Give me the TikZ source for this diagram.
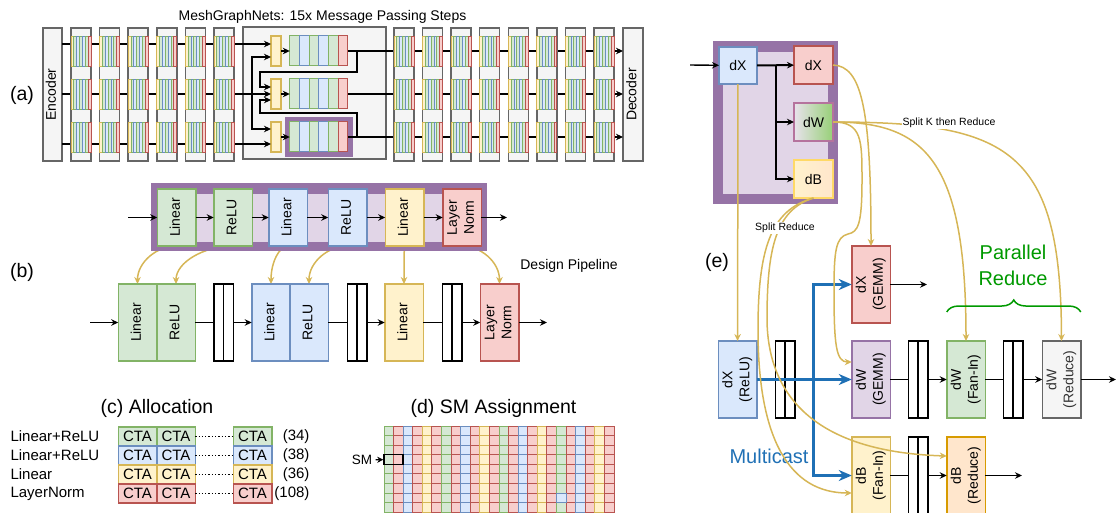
\documentclass[tikz,border=0pt]{standalone}
\usepackage{fontspec}
\setmainfont{Liberation Sans}
\usepackage{graphicx}
\usetikzlibrary{arrows.meta,calc,decorations.pathreplacing}
\pgfdeclarelayer{behind}
\pgfsetlayers{behind,main}
\definecolor{pale-green}{HTML}{D5E8D4}
\definecolor{leaf-green}{HTML}{82B366}
\definecolor{pale-blue}{HTML}{DAE8FC}
\definecolor{steel-blue}{HTML}{6C8EBF}
\definecolor{pale-yellow}{HTML}{FFF2CC}
\definecolor{mustard}{HTML}{D6B656}
\definecolor{pale-red}{HTML}{F8CECC}
\definecolor{brick}{HTML}{B85450}
\definecolor{pale-purple}{HTML}{E1D5E7}
\definecolor{plum}{HTML}{9673A6}
\definecolor{pale-grey}{HTML}{F5F5F5}
\definecolor{slate}{HTML}{666666}
\definecolor{dark-grey}{HTML}{333333}
\definecolor{pale-orange}{HTML}{FFE6CC}
\definecolor{amber}{HTML}{D79B00}
\definecolor{sun}{HTML}{FFD966}
\definecolor{mauve}{HTML}{B5739D}
\definecolor{lime}{HTML}{97D077}
\definecolor{lavender}{HTML}{E8E2EC}
\definecolor{gold-line}{HTML}{D6B656}
\definecolor{cast-blue}{HTML}{1F70B5}
\definecolor{reduce-green}{HTML}{009900}

\newcommand{\vtxt}[1]{\rotatebox{90}{\begin{tabular}{@{}c@{}}#1\end{tabular}}}

\begin{document}
\begin{tikzpicture}[
    x=1pt, y=-1pt,
    >={Stealth[length=7pt,width=6.5pt]},
    font=\fontsize{14}{17}\selectfont,
    cell/.style={draw, line width=1.5pt, inner sep=0pt, outer sep=0pt},
    greenbox/.style={cell, draw=leaf-green, fill=pale-green},
    bluebox/.style={cell, draw=steel-blue, fill=pale-blue},
    yellowbox/.style={cell, draw=mustard, fill=pale-yellow},
    redbox/.style={cell, draw=brick, fill=pale-red},
    purplebox/.style={cell, draw=plum, fill=pale-purple},
    greybox/.style={cell, draw=slate, fill=pale-grey},
    orangebox/.style={cell, draw=amber, fill=pale-orange},
    shortbox/.style={minimum width=38.5pt, minimum height=57pt},
    tallbox/.style={minimum width=38.5pt, minimum height=77pt},
    ctabox/.style={minimum width=38.5pt, minimum height=19pt, font=\fontsize{15}{18}\selectfont},
    bufbox/.style={draw, line width=1.5pt, fill=white, minimum width=19.5pt, minimum height=77pt, inner sep=0pt},
    flow/.style={->, line width=1.4pt},
    feed/.style={->, draw=gold-line, line width=1.5pt},
    cast/.style={-{Stealth[length=13pt,width=11pt]}, draw=cast-blue, line width=3pt},
    tag/.style={font=\fontsize{19.5}{23}\selectfont}]

    \useasboundingbox (0,0) rectangle (1116,512);
    \clip (0,0) rectangle (1116,512);

    % (a)
    \node[tag] (tagA) at (22,95) {(a)};
    \node (titleA) at (322.5,17) {MeshGraphNets: 15x Message Passing Steps};

    \node[greybox, minimum width=19pt, minimum height=133pt] (enc) at (52.5,94.5) {\vtxt{Encoder}};
    \node[greybox, minimum width=20pt, minimum height=133pt] (dec) at (633,94.5) {\vtxt{Decoder}};
    \node[greybox, minimum width=143pt, minimum height=132pt] (step) at (314.5,93) {};
    \node[cell, draw=plum, fill=plum, minimum width=66pt, minimum height=38pt] (hot) at (319,137) {};
    \foreach \r/\ry in {1/51, 2/94, 3/137} {
        \node[yellowbox, line width=1.2pt, minimum width=10pt, minimum height=30pt] (upd\r) at (276,\ry) {};
        \node[minimum width=58pt, minimum height=30pt, inner sep=0pt] (mlp\r) at (319,\ry) {};
        \foreach \f/\d [count=\i from 0] in {pale-green/leaf-green, pale-blue/steel-blue, pale-green/leaf-green, pale-blue/steel-blue, pale-green/leaf-green, pale-red/brick}
            \draw[draw=\d, fill=\f, line width=1.2pt] (mlp\r.north west) ++(\i*9.67,0) rectangle ++(9.67,30);
    }

    \draw[flow] (enc.east |- 0,44) -- (upd1.west |- 0,44);
    \draw[flow] (enc.east |- 0,94) -- (upd2.west |- 0,94);
    \draw[flow] (enc.east |- 0,144) -- (upd3.west |- 0,144);
    \foreach \r in {1,2,3} {
        \draw[flow] (upd\r) -- (mlp\r);
        \draw[flow] (mlp\r.east) -- (dec.west |- mlp\r.east);
    }
    \draw[flow] (252,94) |- (upd1.west |- 0,57);
    \draw[flow] (252,94) |- (upd3.west |- 0,129);
    \draw[flow] (mlp1.east) -- (357,51) |- (260,72) |- (upd2.west |- 0,87);
    \draw[flow] (mlp3.east) -- (357,137) |- (260,113) |- (upd2.west |- 0,100);

    \foreach \cx in {71,99.6,128.2,156.8,185.4,214,394,422.6,451.1,479.7,508.3,536.9,565.4,594} {
        \draw[greybox] (\cx,28) rectangle ++(20,133);
        \foreach \sy in {36,79,122}
            \foreach \f/\d [count=\i from 0] in {pale-yellow/mustard, pale-green/leaf-green, pale-blue/steel-blue, pale-green/leaf-green, pale-blue/steel-blue, pale-green/leaf-green, pale-red/brick}
                \draw[draw=\d, fill=\f, line width=1pt] (\cx+\i*2.857,\sy) rectangle ++(2.857,30);
    }

    % (b)
    \node[tag] (tagB) at (22,272) {(b)};
    \node[cell, draw=plum, fill=plum, minimum width=334pt, minimum height=66pt] (fused) at (319,217) {};
    \node[fill=pale-purple, minimum width=324pt, minimum height=48pt, inner sep=0pt] (fusedIn) at (319,218) {};

    \node[greenbox, shortbox] (upLinA) at (176.5,217.5) {\vtxt{Linear}};
    \node[greenbox, shortbox] (upReluA) at (233,217.5) {\vtxt{ReLU}};
    \node[bluebox, shortbox] (upLinB) at (288,217.5) {\vtxt{Linear}};
    \node[bluebox, shortbox] (upReluB) at (347.5,217.5) {\vtxt{ReLU}};
    \node[yellowbox, shortbox] (upLinC) at (404.5,217.5) {\vtxt{Linear}};
    \node[redbox, shortbox] (upNorm) at (462,217.5) {\vtxt{Layer\\Norm}};
    \coordinate (upIn) at (128,217.5);
    \coordinate (upOut) at (507,217.5);
    \draw[flow] (upIn) -- (upLinA);
    \draw[flow] (upLinA) -- (upReluA);
    \draw[flow] (upReluA) -- (upLinB);
    \draw[flow] (upLinB) -- (upReluB);
    \draw[flow] (upReluB) -- (upLinC);
    \draw[flow] (upLinC) -- (upNorm);
    \draw[flow] (upNorm) -- (upOut);

    \node[greenbox, tallbox] (loLinA) at (137.5,322.5) {\vtxt{Linear}};
    \node[greenbox, tallbox] (loReluA) at (176,322.5) {\vtxt{ReLU}};
    \node[bufbox] (bufA) at (223.5,322.5) {};
    \node[bluebox, tallbox] (loLinB) at (271,322.5) {\vtxt{Linear}};
    \node[bluebox, tallbox] (loReluB) at (309,322.5) {\vtxt{ReLU}};
    \node[bufbox] (bufB) at (357,322.5) {};
    \node[yellowbox, tallbox] (loLinC) at (404,322.5) {\vtxt{Linear}};
    \node[bufbox] (bufC) at (452,322.5) {};
    \node[redbox, tallbox] (loNorm) at (499.5,322.5) {\vtxt{Layer\\Norm}};
    \foreach \b in {bufA,bufB,bufC}
        \draw[line width=1.5pt] (\b.north) -- (\b.south);
    \coordinate (loIn) at (90,322.5);
    \coordinate (loOut) at (547,322.5);
    \draw[flow] (loIn) -- (loLinA);
    \draw[line width=1.4pt] (loReluA) -- (bufA);
    \draw[flow] (bufA) -- (loLinB);
    \draw[line width=1.4pt] (loReluB) -- (bufB);
    \draw[flow] (bufB) -- (loLinC);
    \draw[line width=1.4pt] (loLinC) -- (bufC);
    \draw[flow] (bufC) -- (loNorm);
    \draw[flow] (loNorm) -- (loOut);
    \node (design) at (569,266) {Design Pipeline};

    \begin{pgfonlayer}{behind}
        \foreach \a/\b in {upLinA/loLinA, upReluA/loReluA, upLinB/loLinB, upReluB/loReluB, upLinC/loLinC, upNorm/loNorm}
            \draw[feed] (\a.south) .. controls ($(\a.south)!0.5!(\b.north |- \a.south)$) and ($(\b.north)+(0,-22)$) .. (\b.north);
    \end{pgfonlayer}

    % (c)
    \node[tag] (titleC) at (157,408) {(c) Allocation};
    \foreach \n/\lab/\cnt/\sty in {0/Linear+ReLU/(34)/greenbox, 1/Linear+ReLU/(38)/bluebox, 2/Linear/(36)/yellowbox, 3/LayerNorm/(108)/redbox} {
        \node[anchor=west, font=\fontsize{15}{18}\selectfont] (lab\n) at (7,436.5+19*\n) {\lab};
        \node[\sty, ctabox] (ctaA\n) at (137.5,436.5+19*\n) {CTA};
        \node[\sty, ctabox] (ctaB\n) at (176,436.5+19*\n) {CTA};
        \node[\sty, ctabox] (ctaC\n) at (252.5,436.5+19*\n) {CTA};
        \draw[line width=1.3pt, dash pattern=on 1.3pt off 2pt] (ctaB\n) -- (ctaC\n);
        \node[anchor=east, font=\fontsize{15}{18}\selectfont] (cnt\n) at (313,436.5+19*\n) {\cnt};
    }

    % (d)
    \node[tag] (titleD) at (493.5,408) {(d) SM Assignment};
    \foreach \g in {0,...,3}
        \foreach \f/\d [count=\i from 0] in {pale-green/leaf-green, pale-red/brick, pale-blue/steel-blue, pale-red/brick, pale-yellow/mustard, pale-red/brick}
            \foreach \r in {0,...,8}
                \draw[draw=\d, fill=\f, line width=1pt] (384+57.5*\g+9.583*\i,426+9.583*\r) rectangle ++(9.583,9.583);
    \draw[draw=steel-blue, fill=pale-blue, line width=1pt] (384+9.583*18,426+9.583*7) rectangle ++(9.583,9.583);
    \node[draw, line width=1.5pt, minimum width=19.2pt, minimum height=9.6pt, inner sep=0pt] (smBox) at (393.6,459.5) {};
    \node[font=\fontsize{13.5}{16}\selectfont] (smLab) at (362,460) {SM};
    \draw[->, line width=1.2pt, >={Stealth[length=6pt,width=6pt]}] (smLab) -- (smBox);

    % (e)
    \node[tag] (tagE) at (717,262) {(e)};
    \node[cell, draw=plum, fill=plum, minimum width=123pt, minimum height=161pt] (bwd) at (775.5,122.5) {};
    \node[fill=pale-purple, minimum width=105pt, minimum height=142pt, inner sep=0pt] (bwdIn) at (775.5,123) {};
    \node[bluebox, minimum width=38pt, minimum height=37pt] (dXin) at (738,65.5) {dX};
    \node[redbox, minimum width=39pt, minimum height=38pt] (dXout) at (813.5,65) {dX};
    \node[cell, draw=mauve, left color=lavender, right color=lime, minimum width=39pt, minimum height=38pt] (dWout) at (813.5,122) {dW};
    \node[cell, draw=sun, left color=pale-yellow, right color=pale-orange, minimum width=39pt, minimum height=38pt] (dBout) at (813.5,179) {dB};
    \coordinate (gradIn) at (690,65);
    \draw[flow] (gradIn) -- (dXin);
    \draw[flow, line width=2pt] (dXin) -- (dXout);
    \draw[flow] (776,65) |- (dWout);
    \draw[flow] (776,65) |- (dBout);

    \node[bluebox, tallbox] (dXrelu) at (737.5,379.5) {\vtxt{dX\\(ReLU)}};
    \node[bufbox] (bufE1) at (785,379.5) {};
    \node[redbox, tallbox] (dXgemm) at (871,284.5) {\vtxt{dX\\(GEMM)}};
    \node[purplebox, tallbox] (dWgemm) at (871,379.5) {\vtxt{dW\\(GEMM)}};
    \node[bufbox] (bufE2) at (918,379.5) {};
    \node[greenbox, tallbox] (dWfan) at (966,379.5) {\vtxt{dW\\(Fan-In)}};
    \node[bufbox] (bufE3) at (1013,379.5) {};
    \node[greybox, tallbox, text=dark-grey] (dWred) at (1061.5,379.5) {\vtxt{dW\\(Reduce)}};
    \node[yellowbox, tallbox] (dBfan) at (871,475.5) {\vtxt{dB\\(Fan-In)}};
    \node[bufbox] (bufE4) at (918,475.5) {};
    \node[orangebox, tallbox] (dBred) at (966,475.5) {\vtxt{dB\\(Reduce)}};
    \foreach \b in {bufE1,bufE2,bufE3,bufE4}
        \draw[line width=1.5pt] (\b.north) -- (\b.south);
    \coordinate (dXend) at (927,284.5);
    \coordinate (dWend) at (1116,379.5);
    \coordinate (dBend) at (1022,475.5);
    \draw[flow] (dXgemm) -- (dXend);
    \draw[line width=1.4pt] (dWgemm) -- (bufE2);
    \draw[flow] (bufE2) -- (dWfan);
    \draw[line width=1.4pt] (dWfan) -- (bufE3);
    \draw[flow] (bufE3) -- (dWred);
    \draw[flow] (dWred) -- (dWend);
    \draw[line width=1.4pt] (dBfan) -- (bufE4);
    \draw[flow] (bufE4) -- (dBred);
    \draw[flow] (dBred) -- (dBend);

    \draw[cast] (dXrelu) -- (dWgemm);
    \draw[cast] (813,379.5) |- (dXgemm);
    \draw[cast] (813,379.5) |- (dBfan);
    \node[text=cast-blue, font=\fontsize{20}{24}\selectfont] (multicast) at (769,456) {Multicast};

    \draw[feed] (dXin) -- (dXrelu);
    \draw[feed] (dXout.east) .. controls (862,66) and (871,110) .. (dXgemm.north);
    \draw[feed] (dWout.east) .. controls (862,122) and (862,140) .. (862,180) .. controls (862,225) and (858,232) .. (848,234) .. controls (836,237) and (834,250) .. (834,290) .. controls (834,345) and (836,362) .. (dWgemm.west |- 0,362);
    \draw[feed] (dWout.east) .. controls (925,122) and (966,160) .. (dWfan.north);
    \draw[feed] (dWout.east) .. controls (1010,122) and (1061,150) .. (dWred.north);
    \node[fill=white, inner sep=1pt, font=\fontsize{10.5}{12}\selectfont] (splitK) at (949,123) {Split K then Reduce};
    \draw[feed] (dBout.south) .. controls (770,210) and (758,250) .. (758,330) .. controls (758,440) and (790,493) .. (dBfan.west |- 0,493);
    \draw[feed] (dBout.south) .. controls (775,210) and (767,250) .. (767,320) .. controls (768,400) and (820,452) .. (dBred.west |- 0,456);
    \node[fill=white, inner sep=1pt, font=\fontsize{10.5}{12}\selectfont] (splitR) at (785,228) {Split Reduce};

    \draw[reduce-green, line width=1.5pt, decorate, decoration={brace, amplitude=12pt}] (dWfan.west |- 0,312) -- (dWred.east |- 0,312);
    \node[text=reduce-green, align=center, font=\fontsize{20}{26}\selectfont] (parRed) at (1013,265) {Parallel\\Reduce};

\end{tikzpicture}
\end{document}
